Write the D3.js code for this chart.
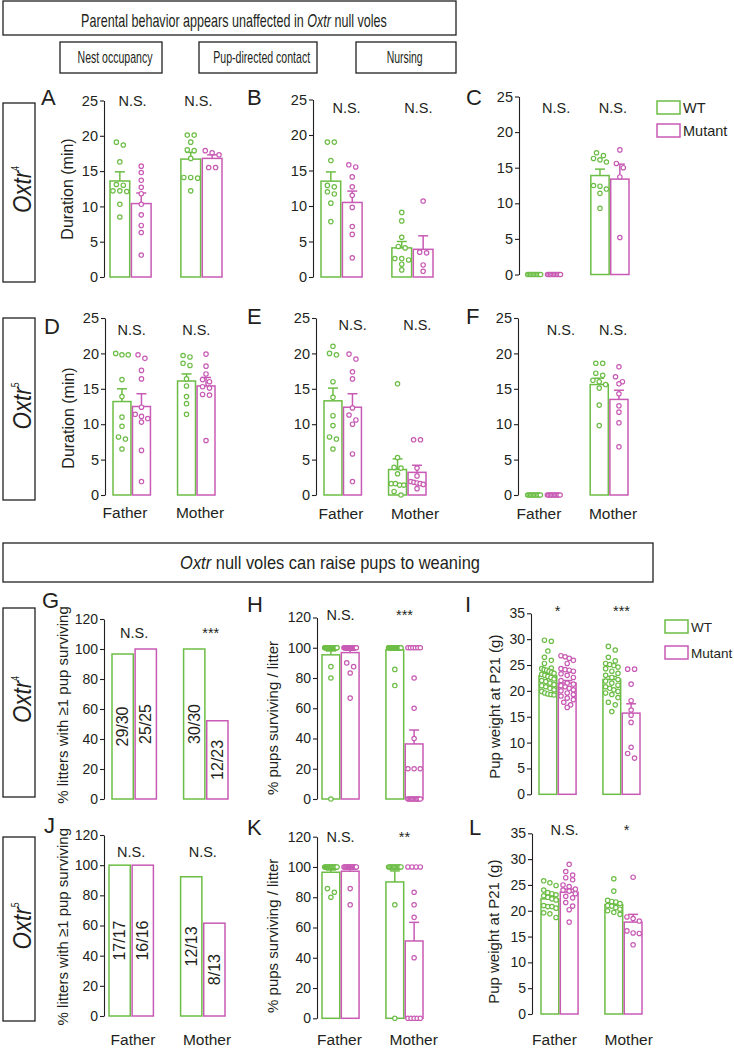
<!DOCTYPE html>
<html><head><meta charset="utf-8">
<script src="https://cdn.jsdelivr.net/npm/d3@7"></script>
<style>
body{margin:0;background:#fff;}
svg text{font-family:"Liberation Sans",Arial,Helvetica,sans-serif;fill:#231f20;}
</style></head><body>
<svg id="chart" width="734" height="1050"></svg>
<script>
// ---------------- DATA ----------------
const parents = ["Father","Mother"];
const genotypes = ["WT","Mutant"];
const genoColors = ["#6cbd45","#c85ab4"];
const rowLines = ["4","5","4","5"];
const subTitles = ["Nest occupancy","Pup-directed contact","Nursing"];
const durTicks = [0,5,10,15,20,25];
const pctTicks = [0,20,40,60,80,100,120];
const wtTicks = [0,5,10,15,20,25,30,35];

// order in every array: WT-Father, Mutant-Father, WT-Mother, Mutant-Mother
const A_mean = [13.6, 10.4, 16.7, 16.8];
const A_sem  = [1.3, 1.5, 0.95, 0.5];
const A_pts = [
  [19.1, 18.7, 16.3, 13.1, 13.0, 12.2, 12.2, 12.1, 10.3, 8.5],
  [15.7, 14.8, 13.7, 12.7, 11.8, 10.3, 8.8, 7.3, 6.3, 3.1],
  [20.1, 20.1, 19.1, 18.0, 17.9, 16.8, 14.1, 14.1, 14.0, 12.2],
  [17.9, 17.6, 17.3, 15.5, 15.5]];
const A_sig = ["N.S.","N.S."];

const B_mean = [13.5, 10.5, 4.1, 3.9];
const B_sem  = [1.3, 1.6, 0.9, 1.9];
const B_pts = [
  [19.0, 19.0, 16.4, 12.9, 12.7, 12.0, 11.7, 10.4, 7.8],
  [15.8, 15.5, 14.1, 12.7, 11.5, 9.8, 7.1, 6.0, 2.7],
  [9.1, 7.9, 5.6, 4.3, 4.1, 2.6, 2.6, 2.4, 1.8, 1.0],
  [10.7, 3.5, 3.4, 1.7, 0.8]];
const B_sig = ["N.S.","N.S."];

const C_mean = [0, 0, 13.9, 13.4];
const C_sem  = [0, 0, 0.9, 2.1];
const C_pts = [
  [0,0,0,0,0,0,0,0,0,0],
  [0,0,0,0,0,0,0,0,0,0],
  [17.1, 16.7, 16.3, 16.1, 15.8, 12.5, 12.4, 12.0, 11.4, 9.3],
  [17.5, 15.6, 15.0, 13.7, 5.2]];
const C_sig = ["N.S.","N.S."];

const D_mean = [13.2, 12.5, 16.1, 15.4];
const D_sem  = [1.8, 1.8, 1.0, 1.2];
const D_pts = [
  [20.0, 19.8, 19.8, 16.3, 13.9, 11.0, 9.7, 8.2, 7.9, 6.5],
  [19.8, 19.3, 17.6, 16.4, 12.4, 11.4, 11.1, 10.8, 10.3, 6.3, 1.9],
  [19.7, 19.5, 18.6, 18.3, 16.4, 15.4, 13.9, 12.9, 11.4],
  [19.9, 18.2, 17.1, 16.3, 16.0, 15.3, 15.1, 14.2, 14.1, 7.7]];
const D_sig = ["N.S.","N.S."];

const E_mean = [13.3, 12.4, 3.6, 3.2];
const E_sem  = [1.8, 1.9, 1.5, 1.0];
const E_pts = [
  [21.0, 20.0, 19.8, 16.0, 13.8, 11.2, 9.8, 8.2, 7.9, 6.5],
  [19.9, 19.2, 17.4, 16.4, 12.3, 11.3, 10.6, 10.0, 5.8, 1.9],
  [15.7, 5.3, 3.9, 3.8, 3.0, 1.6, 1.6, 1.4, 1.4, 0.5, 0.0],
  [7.8, 7.8, 3.8, 2.7, 1.9, 1.8, 1.7, 1.6, 1.5, 0.9]];
const E_sig = ["N.S.","N.S."];

const F_mean = [0, 0, 15.6, 13.5];
const F_sem  = [0, 0, 0.9, 1.3];
const F_pts = [
  [0,0,0,0,0,0,0,0,0,0],
  [0,0,0,0,0,0,0,0,0,0],
  [18.6, 18.6, 17.2, 16.9, 16.2, 16.0, 15.6, 15.1, 12.7, 9.8],
  [18.1, 16.7, 16.0, 15.7, 14.3, 12.6, 11.7, 10.2, 6.8]];
const F_sig = ["N.S.","N.S."];

// litters with >=1 pup surviving: [surviving, total]
const G_counts = [[29,30],[25,25],[30,30],[12,23]];
const G_sig = ["N.S.","***"];

const H_mean = [95.3, 96.8, 98.6, 36.4];
const H_sem  = [2.6, 1.6, 0.9, 9.2];
const H_pts = [
  [100,100,100,100,100,100,100,100,100,100,100,100,100,100,100,100,100,100,100,100,100,100,100,100,100,100,100,87.5,80,0],
  [100,100,100,100,100,100,100,100,100,100,100,100,100,100,100,100,100,100,100,100,100,90,87.5,83.3,66.7],
  [100,100,100,100,100,100,100,100,100,100,100,100,100,100,100,100,100,100,100,100,100,100,100,100,100,100,100,100,85.7,75],
  [100,100,100,100,100,100,80,60,40,20,20,20,0,0,0,0,0,0,0,0,0,0,0]];
const H_sig = ["N.S.","***"];

const I_mean = [22.9, 21.5, 22.2, 15.7];
const I_sem  = [0.5, 0.5, 0.6, 1.8];
const I_pts = [
  [29.8, 29.6, 27.7, 26.5, 25.9, 25.3, 24.4, 24.3, 24.1, 24.0, 23.8, 23.6, 23.4, 23.2, 23.0, 22.8, 22.6, 22.3, 22.0, 21.8, 21.5, 21.2, 21.0, 20.8, 20.5, 20.2, 19.9, 19.6, 19.4, 19.3, 19.2],
  [26.8, 26.6, 26.3, 25.9, 25.3, 24.3, 24.1, 24.0, 23.8, 23.3, 23.0, 22.6, 22.0, 21.5, 21.3, 21.0, 20.8, 20.5, 20.2, 20.0, 19.6, 19.3, 19.0, 18.6, 18.3, 17.8, 17.3, 16.8],
  [28.6, 27.9, 26.5, 25.8, 25.3, 25.1, 24.9, 24.6, 24.3, 23.8, 23.4, 23.0, 22.6, 22.2, 21.9, 21.5, 21.1, 20.8, 20.5, 20.2, 19.9, 19.6, 19.3, 18.7, 17.8, 17.3, 16.0],
  [24.2, 24.2, 21.3, 18.1, 16.3, 15.3, 13.9, 9.1, 7.9, 7.0]];
const I_sig = ["*","***"];

const J_counts = [[17,17],[16,16],[12,13],[8,13]];
const J_sig = ["N.S.","N.S."];

const K_mean = [96.5, 97.2, 90.1, 51.1];
const K_sem  = [1.5, 1.8, 7.3, 12.3];
const K_pts = [
  [100,100,100,100,100,100,100,100,100,100,100,100,100,100,85.7,83.3,80],
  [100,100,100,100,100,100,100,100,100,100,100,100,100,100,85.7,75],
  [100,100,100,100,100,100,100,100,100,100,100,75,0],
  [100,100,100,100,83.3,75,66.7,40,0,0,0,0,0]];
const K_sig = ["N.S.","**"];

const L_mean = [22.3, 23.6, 21.2, 17.8];
const L_sem  = [0.45, 0.6, 0.5, 1.5];
const L_pts = [
  [25.8, 25.4, 24.9, 24.0, 23.5, 23.3, 23.1, 22.9, 22.6, 22.3, 22.1, 21.0, 20.8, 20.8, 20.5, 19.6, 19.4, 18.7],
  [29.0, 27.6, 26.9, 26.4, 26.0, 25.0, 24.7, 24.2, 24.0, 23.8, 23.3, 22.8, 22.5, 21.6, 20.9, 20.2, 17.8],
  [26.2, 23.8, 22.0, 21.8, 21.7, 21.4, 21.0, 20.9, 20.6, 20.3, 20.0, 19.7, 19.3],
  [26.5, 18.8, 18.5, 18.0, 16.1, 15.7, 15.6, 13.4]];
const L_sig = ["N.S.","*"];

// ---------------- DRAW ----------------
const svg = d3.select("#chart");
const ink = "#231f20";
const FONT = '"Liberation Sans",Arial,Helvetica,sans-serif';

function box(x,y,w,h){
  svg.append("rect").attr("x",x).attr("y",y).attr("width",w).attr("height",h)
    .attr("fill","none").attr("stroke",ink).attr("stroke-width",1.3);
}
// text squeezed horizontally to a given width (condensed look)
function condensed(cx, by, parts, fs, len){
  const t = svg.append("text").attr("text-anchor","middle").attr("font-size",fs);
  parts.forEach(p=>t.append("tspan").attr("font-style",p[1]?"italic":"normal").text(p[0]));
  const nat = t.node().getComputedTextLength();
  t.attr("transform",`translate(${cx},${by}) scale(${len/nat},1)`);
}

// title boxes
box(3,1,453,34);
condensed(234,27,[["Parental behavior appears unaffected in ",0],["Oxtr",1],[" null voles",0]],18,306);
const subBoxes = [[60,102,115,75],[199,118,261.7,97],[356,100,404.7,36]];
subTitles.forEach((s,i)=>{
  const b = subBoxes[i];
  box(b[0],42,b[1],31);
  condensed(b[2],63,[[s,0]],16,b[3]);
});
box(3,543,650,39);
condensed(330,569,[["Oxtr",1],[" null voles can raise pups to weaning",0]],18,300);

// row label boxes
const rowBoxes = [[103,282],[318,500],[608,797],[837,1021]];
rowBoxes.forEach((b,i)=>{
  box(3,b[0],32,b[1]-b[0]);
  const cy = (b[0]+b[1])/2 - 3;
  const t = svg.append("text").attr("text-anchor","middle").attr("font-size",26);
  t.append("tspan").attr("font-style","italic").text("Oxtr");
  t.append("tspan").attr("font-size",10).attr("dy",-12).text(rowLines[i]);
  const nat = t.node().getComputedTextLength();
  t.attr("transform",`translate(31,${cy}) rotate(-90) scale(${47/nat},1)`);
});

function legend(x, y1, y2, fs){
  [y1,y2].forEach((yy,i)=>{
    svg.append("rect").attr("x",x).attr("y",yy).attr("width",23).attr("height",13)
      .attr("fill","none").attr("stroke",genoColors[i]).attr("stroke-width",1.5);
    svg.append("text").attr("x",x+26).attr("y",yy+12).attr("font-size",fs).text(genotypes[i]);
  });
}

function swarm(vals, y, cx, bw, r){
  const arr = vals.map(v=>({v, py:y(v)})).sort((a,b)=>a.py-b.py);
  const rows=[]; let cur=null;
  arr.forEach(p=>{ if(!cur || p.py-cur[0].py > 2*r+0.6){cur=[p];rows.push(cur);} else cur.push(p); });
  rows.forEach(row=>{
    const k=row.length;
    const sp = k>1 ? Math.min(2*r+2.5, (bw-2*r-1)/(k-1)) : 0;
    row.forEach((p,j)=>{ p.px = cx + (j-(k-1)/2)*sp; });
  });
  return arr;
}

function panel(c){
  svg.append("text").attr("x",c.letter[0]).attr("y",c.letter[1]).attr("font-size",22).text(c.id);
  const y = d3.scaleLinear().domain([0,c.max]).range([c.y0,c.yTop]);
  const xo = d3.scaleBand().domain(parents).range(c.bx).paddingInner(c.pi||0.42);
  const xi = d3.scaleBand().domain(genotypes).range([0,xo.bandwidth()]).paddingInner(0.08);
  const g = svg.append("g");
  const ax = g.append("g").attr("transform",`translate(${c.axisX},0)`)
    .call(d3.axisLeft(y).tickValues(c.ticks).tickSize(4).tickSizeOuter(0).tickPadding(2));
  ax.selectAll("path,line").attr("stroke",ink).attr("stroke-width",1.1);
  ax.selectAll("text").attr("font-size",c.tfs||14.5).attr("font-family",FONT).attr("fill",ink);
  if(c.ylab){
    svg.append("text").attr("transform",`translate(${c.ylabPos[0]},${c.ylabPos[1]}) rotate(-90)`)
      .attr("text-anchor","middle").attr("dominant-baseline","central").attr("font-size",c.ylfs).text(c.ylab);
  }
  const bw = xi.bandwidth();
  for(let i=0;i<4;i++){
    const par = parents[i>>1], gen = genotypes[i&1], col = genoColors[i&1];
    const x0 = xo(par)+xi(gen), cx = x0+bw/2;
    let val;
    if(c.counts){ val = c.counts[i][0]/c.counts[i][1]*100; } else val = c.mean[i];
    if(val>0){
      g.append("rect").attr("x",x0).attr("y",y(val)).attr("width",bw).attr("height",y(0)-y(val))
        .attr("fill","#fff").attr("stroke",col).attr("stroke-width",1.5);
    }
    if(c.counts){
      g.append("text").attr("transform",`translate(${cx},${y(val/2)}) rotate(-90)`)
        .attr("text-anchor","middle").attr("dominant-baseline","central").attr("font-size",16)
        .text(c.counts[i][0]+"/"+c.counts[i][1]);
    } else {
      if(c.sem[i]>0){
        const ye = y(val+c.sem[i]);
        g.append("line").attr("x1",cx).attr("x2",cx).attr("y1",y(val)).attr("y2",ye).attr("stroke",col).attr("stroke-width",1.5);
        g.append("line").attr("x1",cx-5).attr("x2",cx+5).attr("y1",ye).attr("y2",ye).attr("stroke",col).attr("stroke-width",1.5);
      }
      const pts = swarm(c.pts[i], y, cx, bw, 2.2);
      g.selectAll(null).data(pts).enter().append("circle")
        .attr("cx",d=>d.px).attr("cy",d=>d.py).attr("r",2.2)
        .attr("fill","#fff").attr("stroke",col).attr("stroke-width",1.2);
    }
  }
  parents.forEach((p,j)=>{
    svg.append("text").attr("x",xo(p)+xo.bandwidth()/2+(c.sigDx?c.sigDx[j]:0)).attr("y",c.sigY)
      .attr("text-anchor","middle").attr("font-size",14.5).text(c.sig[j]);
  });
  if(c.xlab){
    parents.forEach((p,j)=>{
      svg.append("text").attr("x",c.xlab[j]).attr("y",c.xlabY).attr("text-anchor","middle")
        .attr("font-size",15.5).text(p);
    });
  }
}

const panels = [
 {id:"A",letter:[41,105],axisX:104,y0:277,yTop:100.5,max:25,ticks:durTicks,bx:[110,222],mean:A_mean,sem:A_sem,pts:A_pts,sig:A_sig,sigY:106,sigDx:[2,-3],ylab:"Duration (min)",ylabPos:[67,189],ylfs:16},
 {id:"B",letter:[247,105],axisX:313,y0:277,yTop:99.5,max:25,ticks:durTicks,bx:[321,433],mean:B_mean,sem:B_sem,pts:B_pts,sig:B_sig,sigY:113,sigDx:[5,6]},
 {id:"C",letter:[466,105],axisX:519,y0:274.5,yTop:96.5,max:25,ticks:durTicks,bx:[525,629],mean:C_mean,sem:C_sem,pts:C_pts,sig:C_sig,sigY:113,sigDx:[12,3]},
 {id:"D",letter:[44,334],axisX:105,y0:495,yTop:318,max:25,ticks:durTicks,bx:[113,215],mean:D_mean,sem:D_sem,pts:D_pts,sig:D_sig,sigY:335,ylab:"Duration (min)",ylabPos:[68.5,418],ylfs:16,xlab:[125,200],xlabY:518},
 {id:"E",letter:[247,324],axisX:316,y0:495,yTop:318,max:25,ticks:durTicks,bx:[324,426],mean:E_mean,sem:E_sem,pts:E_pts,sig:E_sig,sigY:330,sigDx:[10,10],xlab:[341,415],xlabY:519},
 {id:"F",letter:[466,324],axisX:518,y0:495,yTop:318,max:25,ticks:durTicks,bx:[525,628],mean:F_mean,sem:F_sem,pts:F_pts,sig:F_sig,sigY:335,sigDx:[17,4],xlab:[539,613],xlabY:519},
 {id:"G",letter:[42,608],axisX:104,y0:799,yTop:619,max:120,ticks:pctTicks,tfs:14,bx:[112,228],pi:0.38,counts:G_counts,sig:G_sig,sigY:638,sigDx:[0,5],ylab:"% litters with \u22651 pup surviving",ylabPos:[62,705],ylfs:15},
 {id:"H",letter:[247,612],axisX:317,y0:799,yTop:617.5,max:120,ticks:pctTicks,tfs:14,bx:[322,423],mean:H_mean,sem:H_sem,pts:H_pts,sig:H_sig,sigY:620,ylab:"% pups surviving / litter",ylabPos:[272.5,718],ylfs:15},
 {id:"I",letter:[465,612],axisX:531,y0:794.3,yTop:613.3,max:35,ticks:wtTicks,tfs:14,bx:[539,640],mean:I_mean,sem:I_sem,pts:I_pts,sig:I_sig,sigY:616,ylab:"Pup weight at P21 (g)",ylabPos:[494.5,706.7],ylfs:15},
 {id:"J",letter:[44,833],axisX:104,y0:1016,yTop:835,max:120,ticks:pctTicks,tfs:14,bx:[109,225],pi:0.38,counts:J_counts,sig:J_sig,sigY:857,ylab:"% litters with \u22651 pup surviving",ylabPos:[62,926.7],ylfs:15,xlab:[133,207],xlabY:1045},
 {id:"K",letter:[247,835],axisX:317,y0:1018.3,yTop:836.7,max:120,ticks:pctTicks,tfs:14,bx:[322,423],mean:K_mean,sem:K_sem,pts:K_pts,sig:K_sig,sigY:842,ylab:"% pups surviving / litter",ylabPos:[272.5,935.8],ylfs:15,xlab:[339.5,413.7],xlabY:1045},
 {id:"L",letter:[469,835],axisX:532,y0:1014,yTop:833.3,max:35,ticks:wtTicks,tfs:14,bx:[541,642],mean:L_mean,sem:L_sem,pts:L_pts,sig:L_sig,sigY:835,sigDx:[5,3],ylab:"Pup weight at P21 (g)",ylabPos:[493,931.7],ylfs:15,xlab:[554.5,628.7],xlabY:1045}
];
panels.forEach(panel);
legend(657,101,124,14.5);
legend(665,620,646,13.5);
</script>
</body></html>
